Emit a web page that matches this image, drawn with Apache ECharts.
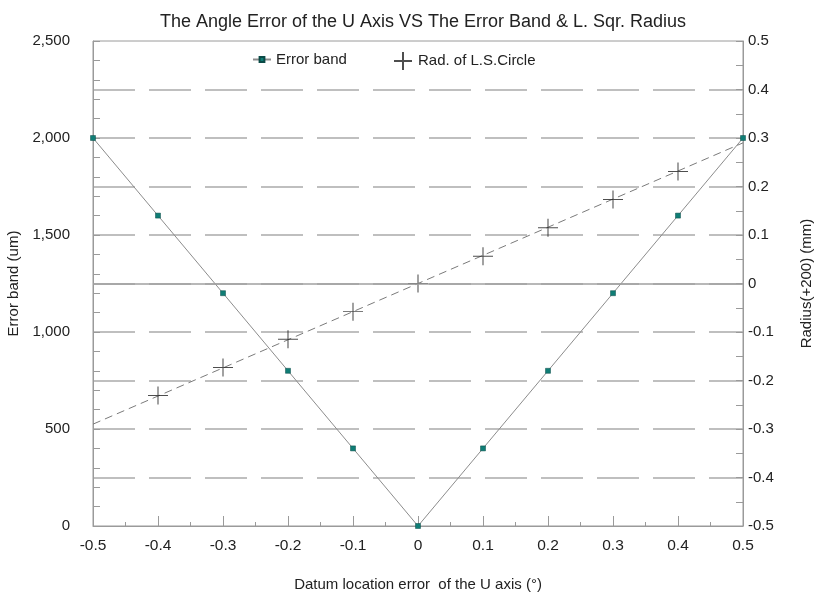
<!DOCTYPE html>
<html>
<head>
<meta charset="utf-8">
<script src="https://cdn.jsdelivr.net/npm/echarts@6/dist/echarts.min.js"></script>
<style>
html, body { margin: 0; padding: 0; background: #fff; }
#chart { width: 814px; height: 594px; }
</style>
</head>
<body>
<div id="chart"></div>
<script>
// data
var datumError = [-0.5, -0.4, -0.3, -0.2, -0.1, 0, 0.1, 0.2, 0.3, 0.4, 0.5];
var errorBand = [2000, 1600, 1200, 800, 400, 0, 400, 800, 1200, 1600, 2000];
var radiusX = [-0.4, -0.3, -0.2, -0.1, 0, 0.1, 0.2, 0.3, 0.4];
var radius = [-0.231, -0.173, -0.115, -0.058, 0, 0.056, 0.115, 0.173, 0.231];
var fitX = [-0.5, 0.5];
var fitRadius = [-0.29, 0.29];

function pairs(xs, ys) {
    return xs.map(function (x, i) { return [x, ys[i]]; });
}

var font = 'Arial, "Liberation Sans", sans-serif';
var axisGray = '#9a9a9a';
var textColor = '#222';
var crossPath = 'path://M5,0L5,10M0,5L10,5';

var chart = echarts.init(document.getElementById('chart'));

var option = {
    animation: false
    , title: {
        text: 'The Angle Error of the U Axis VS The Error Band & L. Sqr. Radius'
        , left: 418
        , textAlign: 'center'
        , top: 8
        , textStyle: { fontFamily: font, fontSize: 18, fontWeight: 'normal', color: textColor }
    }
    , legend: [
        {
            left: 247
            , top: 47
            , itemWidth: 18
            , itemHeight: 6
            , textStyle: { fontFamily: font, fontSize: 15, color: textColor }
            , data: ['Error band']
        }
        , {
            left: 388
            , top: 46
            , itemWidth: 20
            , itemHeight: 18
            , textStyle: { fontFamily: font, fontSize: 15, color: textColor }
            , data: ['Rad. of L.S.Circle']
        }
    ]
    , grid: {
        left: 93, right: 71, top: 41, bottom: 68
        , outerBoundsMode: 'none'
        , show: true
        , borderColor: axisGray
        , borderWidth: 1
    }
    , xAxis: {
        type: 'value'
        , min: -0.5, max: 0.5, interval: 0.1
        , name: 'Datum location error  of the U axis (°)'
        , nameLocation: 'middle'
        , nameGap: 51
        , nameTextStyle: { fontFamily: font, fontSize: 15, color: textColor }
        , axisLine: { onZero: false, lineStyle: { color: axisGray } }
        , axisTick: { inside: true, length: 10, lineStyle: { color: axisGray } }
        , minorTick: { show: true, splitNumber: 2, length: 4, lineStyle: { color: axisGray } }
        , axisLabel: { margin: 12, fontFamily: font, fontSize: 15.5, color: textColor }
        , splitLine: { show: false }
    }
    , yAxis: [
        {
            type: 'value'
            , position: 'left'
            , min: 0, max: 2500, interval: 500
            , name: 'Error band (um)'
            , nameLocation: 'middle'
            , nameGap: 62
            , nameTextStyle: { fontFamily: font, fontSize: 15, color: textColor }
            , axisLine: { show: true, onZero: false, lineStyle: { color: axisGray } }
            , axisTick: { inside: true, length: 7, lineStyle: { color: axisGray } }
            , minorTick: { show: true, splitNumber: 5, length: 7, lineStyle: { color: axisGray } }
            , axisLabel: {
                margin: 23, fontFamily: font, fontSize: 15, color: textColor
                , formatter: function (v) { return v.toLocaleString('en-US'); }
            }
            , splitLine: { show: false }
        }
        , {
            type: 'value'
            , position: 'right'
            , min: -0.5, max: 0.5, interval: 0.1
            , name: 'Radius(+200) (mm)'
            , nameLocation: 'middle'
            , nameGap: 56
            , nameTextStyle: { fontFamily: font, fontSize: 15, color: textColor }
            , axisLine: { show: true, onZero: false, lineStyle: { color: axisGray } }
            , axisTick: { inside: true, length: 7, lineStyle: { color: axisGray } }
            , minorTick: { show: true, splitNumber: 2, length: 7, lineStyle: { color: axisGray } }
            , axisLabel: { margin: 5, fontFamily: font, fontSize: 15, color: textColor }
            , splitLine: {
                show: true
                , showMinLine: false
                , showMaxLine: false
                , lineStyle: { color: '#ababab', width: 1.5, type: [42, 14] }
            }
        }
    ]
    , series: [
        {
            name: 'Rad. of L.S.Circle'
            , type: 'scatter'
            , yAxisIndex: 1
            , symbol: crossPath
            , symbolSize: [20, 18]
            , itemStyle: { color: 'rgba(0,0,0,0)', borderColor: '#222', borderWidth: 1 }
            , data: pairs(radiusX, radius)
            , markLine: {
                silent: true
                , symbol: 'none'
                , label: { show: false }
                , lineStyle: { color: '#a0a0a0', width: 1.5, type: 'solid' }
                , data: [{ yAxis: 0 }]
            }
            , z: 3
        }
        , {
            name: 'fit'
            , type: 'line'
            , yAxisIndex: 1
            , symbol: 'none'
            , lineStyle: { color: '#7a7a7a', width: 1, type: [8, 5] }
            , data: pairs(fitX, fitRadius)
            , z: 2
        }
        , {
            name: 'Error band'
            , type: 'line'
            , yAxisIndex: 0
            , symbol: 'rect'
            , symbolSize: 5
            , showAllSymbol: true
            , lineStyle: { color: '#8c8c8c', width: 1 }
            , itemStyle: { color: '#0f7d75', borderColor: '#0a4a46', borderWidth: 0.5 }
            , data: pairs(datumError, errorBand)
            , z: 4
        }
    ]
};

chart.setOption(option);
</script>
</body>
</html>
